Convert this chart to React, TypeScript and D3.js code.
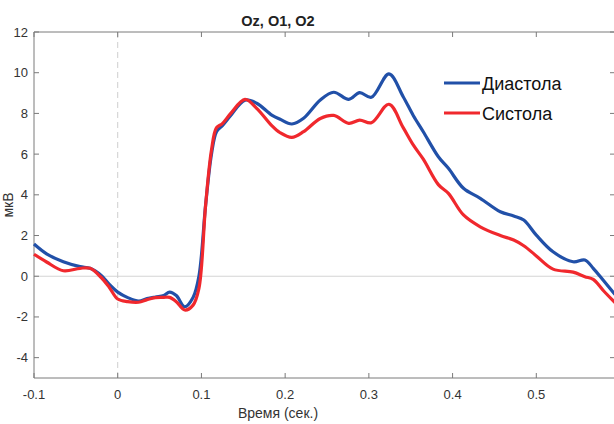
import React from 'react'
import * as d3 from 'd3'

const times = [-0.1, -0.085, -0.065, -0.045, -0.033, -0.02, -0.01, 0.0, 0.012, 0.025, 0.035, 0.045, 0.055, 0.062, 0.07, 0.08, 0.09, 0.097, 0.105, 0.112, 0.118, 0.125, 0.135, 0.152, 0.166, 0.184, 0.194, 0.208, 0.222, 0.242, 0.258, 0.276, 0.289, 0.303, 0.324, 0.341, 0.353, 0.365, 0.383, 0.395, 0.413, 0.433, 0.457, 0.473, 0.485, 0.5, 0.52, 0.544, 0.558, 0.568, 0.58, 0.594]

const diastole = [1.58, 1.1, 0.71, 0.47, 0.39, 0.05, -0.4, -0.78, -1.05, -1.22, -1.1, -1.02, -0.95, -0.78, -0.95, -1.5, -1.04, 0.0, 3.5, 6.0, 7.1, 7.4, 7.9, 8.65, 8.5, 7.92, 7.71, 7.48, 7.76, 8.66, 9.04, 8.69, 9.02, 8.79, 9.94, 8.82, 7.9, 7.1, 5.87, 5.3, 4.32, 3.83, 3.17, 2.96, 2.76, 2.02, 1.2, 0.71, 0.8, 0.39, -0.2, -0.9]

const systole = [1.08, 0.7, 0.27, 0.39, 0.39, -0.05, -0.55, -1.12, -1.25, -1.28, -1.15, -1.05, -1.04, -1.04, -1.25, -1.66, -1.42, -0.6, 3.5, 6.2, 7.3, 7.5, 8.0, 8.69, 8.25, 7.4, 7.05, 6.82, 7.1, 7.75, 7.9, 7.51, 7.67, 7.54, 8.45, 7.3, 6.45, 5.75, 4.5, 4.07, 3.01, 2.43, 2.0, 1.78, 1.5, 1.0, 0.35, 0.2, -0.02, -0.15, -0.7, -1.3]

const xTicks = [-0.1, 0, 0.1, 0.2, 0.3, 0.4, 0.5]
const yTicks = [-4, -2, 0, 2, 4, 6, 8, 10, 12]
const seriesNames = ['Диастола', 'Систола']
const seriesColors = ['#2150a8', '#f0282d']

const W = 614
const H = 424
const left = 34
const right = 615
const top = 32
const bottom = 378
const font = 'Liberation Sans, Arial, sans-serif'
const axisColor = '#7a7a7a'
const textColor = '#333'

export default function App() {
  const x = d3.scaleLinear().domain([-0.1, 0.594]).range([left, right])
  const y = d3.scaleLinear().domain([-5, 12]).range([bottom, top])
  const line = d3.line<number>()
    .x((_, i) => x(times[i]))
    .y(d => y(d))
    .curve(d3.curveCatmullRom.alpha(0.5))

  const tl = 5

  return (
    <svg width={W} height={H} style={{ position: 'absolute', left: 0, top: 0, overflow: 'hidden' }}>
      <rect width={W} height={H} fill="#fff" />
      <text x={278} y={26} textAnchor="middle" fontFamily={font} fontSize={14.5} fontWeight="bold" fill="#222">Oz, O1, O2</text>

      {/* zero line and stimulus marker */}
      <line x1={left} x2={right} y1={y(0)} y2={y(0)} stroke="#d4d4d4" strokeWidth={1} />
      <line x1={x(0)} x2={x(0)} y1={top} y2={bottom} stroke="#cfcfcf" strokeWidth={1} strokeDasharray="6,4" />

      {/* box */}
      <line x1={left} x2={left} y1={top} y2={bottom} stroke={axisColor} />
      <line x1={left} x2={right} y1={bottom} y2={bottom} stroke={axisColor} />
      <line x1={left} x2={right} y1={top} y2={top} stroke={axisColor} />
      <line x1={right} x2={right} y1={top} y2={bottom} stroke={axisColor} />

      {xTicks.map(t => (
        <g key={'x' + t}>
          <line x1={x(t)} x2={x(t)} y1={bottom} y2={bottom - tl} stroke={axisColor} />
          <line x1={x(t)} x2={x(t)} y1={top} y2={top + tl} stroke={axisColor} />
          <text x={x(t)} y={bottom + 21} textAnchor="middle" fontFamily={font} fontSize={13} fill={textColor}>{t}</text>
        </g>
      ))}
      {yTicks.map(t => (
        <g key={'y' + t}>
          <line x1={left} x2={left + tl} y1={y(t)} y2={y(t)} stroke={axisColor} />
          <line x1={right} x2={right - tl} y1={y(t)} y2={y(t)} stroke={axisColor} />
          <text x={left - 6} y={y(t) + 4.5} textAnchor="end" fontFamily={font} fontSize={13} fill={textColor}>{t}</text>
        </g>
      ))}

      <text x={278} y={418} textAnchor="middle" fontFamily={font} fontSize={14} fill={textColor}>Время (сек.)</text>
      <text transform={`translate(13,${y(3.5)}) rotate(-90)`} textAnchor="middle" fontFamily={font} fontSize={14} fill={textColor}>мкВ</text>

      <path d={line(diastole) || ''} fill="none" stroke={seriesColors[0]} strokeWidth={3.2} strokeLinejoin="round" />
      <path d={line(systole) || ''} fill="none" stroke={seriesColors[1]} strokeWidth={3.2} strokeLinejoin="round" />

      {seriesNames.map((n, i) => (
        <g key={n}>
          <line x1={444} x2={480} y1={83 + i * 30} y2={83 + i * 30} stroke={seriesColors[i]} strokeWidth={3} />
          <text x={482} y={89.5 + i * 30} fontFamily={font} fontSize={18} fill="#111">{n}</text>
        </g>
      ))}
    </svg>
  )
}
